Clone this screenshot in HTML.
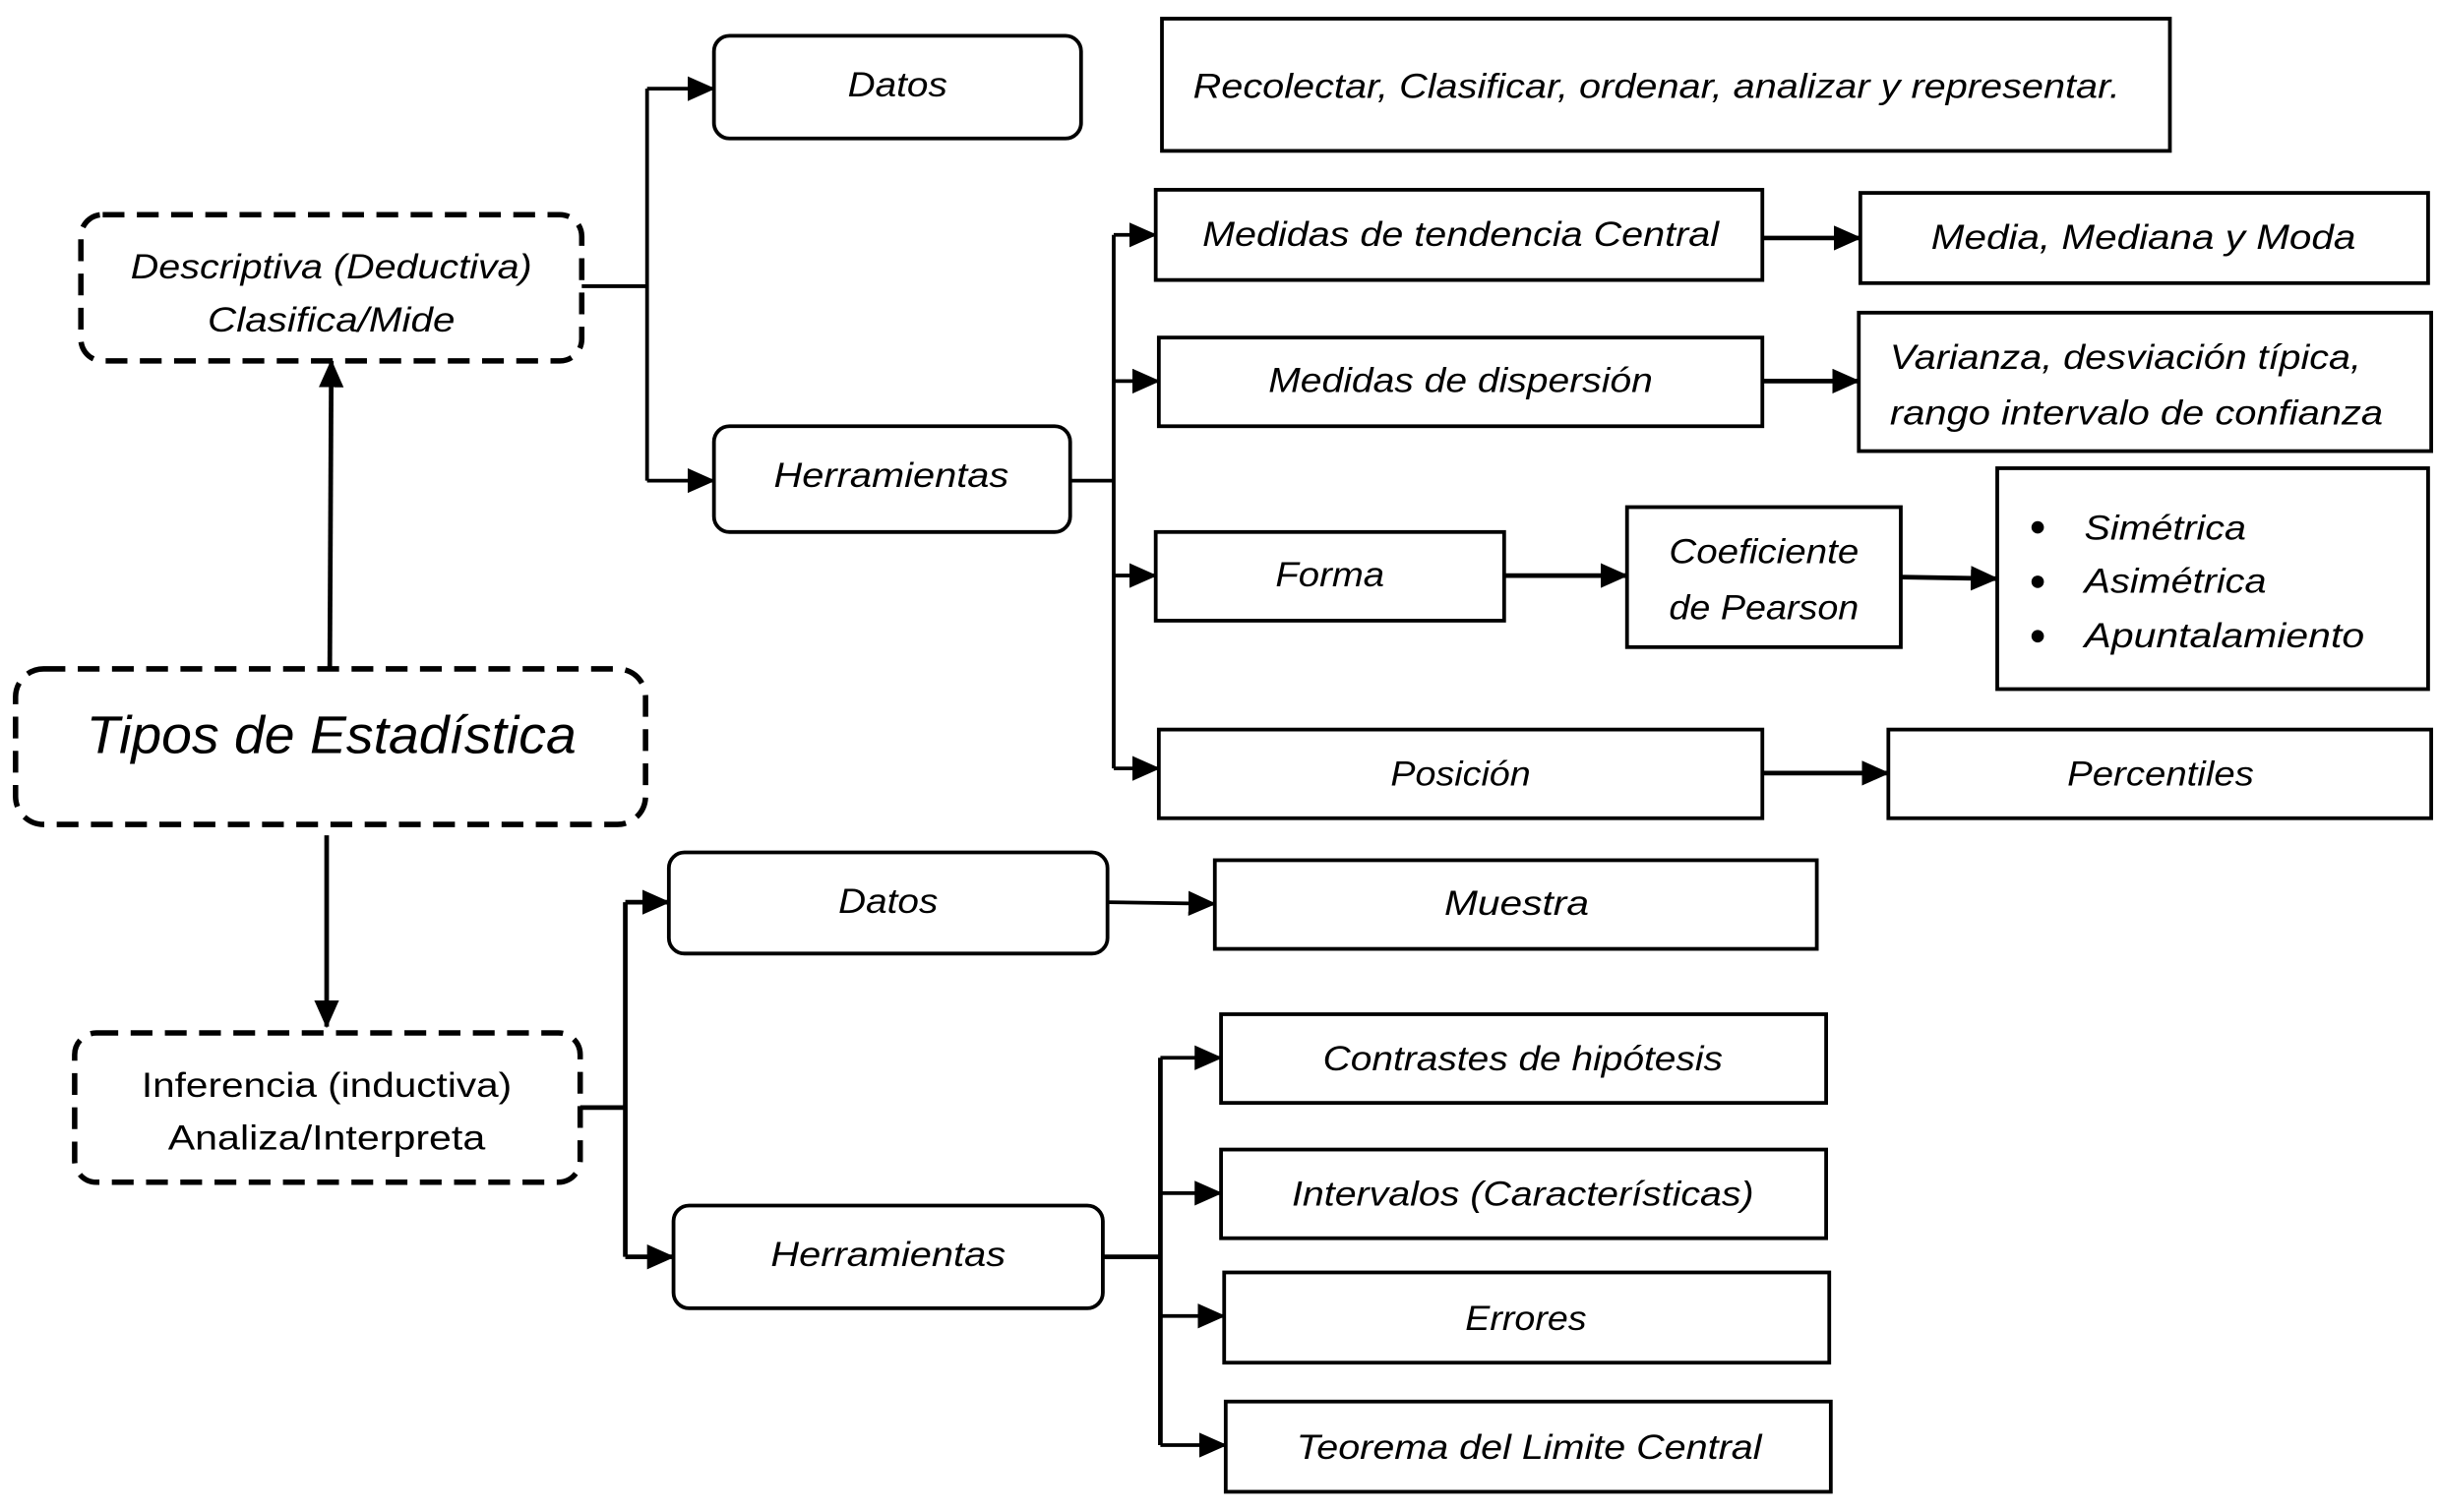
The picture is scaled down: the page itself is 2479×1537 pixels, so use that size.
<!DOCTYPE html>
<html><head><meta charset="utf-8"><style>
html,body{margin:0;padding:0;background:#fff;width:2479px;height:1537px;overflow:hidden}
svg{display:block}
text{font-family:"Liberation Sans",sans-serif;font-style:italic;font-size:22px;fill:#000}
</style></head><body>
<svg width="2479" height="1537" viewBox="0 0 1568 972" preserveAspectRatio="none">
<defs>
<marker id="b" markerWidth="18" markerHeight="16" refX="17" refY="8" orient="auto" markerUnits="userSpaceOnUse"><path d="M0,0L18,8L0,16z" fill="#000"/></marker></defs>
<g fill="none" stroke="#000" stroke-width="2.4">
<rect x="459" y="23" width="236" height="66" rx="10"/>
<rect x="747" y="12" width="648" height="85"/>
<rect x="52" y="138" width="322" height="94" rx="14" stroke-width="3.5" stroke-dasharray="14,8"/>
<rect x="459" y="274" width="229" height="68" rx="10"/>
<rect x="743" y="122" width="390" height="58"/>
<rect x="1196" y="124" width="365" height="58"/>
<rect x="745" y="217" width="388" height="57"/>
<rect x="1195" y="201" width="368" height="89"/>
<rect x="743" y="342" width="224" height="57"/>
<rect x="1046" y="326" width="176" height="90"/>
<rect x="1284" y="301" width="277" height="142"/>
<rect x="745" y="469" width="388" height="57"/>
<rect x="1214" y="469" width="349" height="57"/>
<rect x="10" y="430" width="405" height="100" rx="18" stroke-width="3.5" stroke-dasharray="14,8"/>
<rect x="430" y="548" width="282" height="65" rx="10"/>
<rect x="781" y="553" width="387" height="57"/>
<rect x="48" y="664" width="325" height="96" rx="14" stroke-width="3.5" stroke-dasharray="14,8"/>
<rect x="433" y="775" width="276" height="66" rx="10"/>
<rect x="785" y="652" width="389" height="57"/>
<rect x="785" y="739" width="389" height="57"/>
<rect x="787" y="818" width="389" height="58"/>
<rect x="788" y="901" width="389" height="58"/>
</g>
<g fill="none" stroke="#000" stroke-width="2.4">
<path d="M374,184H416M416,57V309"/>
<path d="M416,57H459" marker-end="url(#b)"/><path d="M416,309H459" marker-end="url(#b)"/>
<path d="M688,309H716M716,151V494"/>
<path d="M716,151H743" marker-end="url(#b)"/><path d="M716,245H745" marker-end="url(#b)"/>
<path d="M716,370H743" marker-end="url(#b)"/><path d="M716,494H745" marker-end="url(#b)"/>
<path d="M1133,153H1196" stroke-width="3" marker-end="url(#b)"/>
<path d="M1133,245H1195" stroke-width="3" marker-end="url(#b)"/>
<path d="M967,370H1046" stroke-width="3" marker-end="url(#b)"/>
<path d="M1222,371L1284,372" stroke-width="3" marker-end="url(#b)"/>
<path d="M1133,497H1214" stroke-width="3" marker-end="url(#b)"/>
<path d="M212,430L213,232" stroke-width="3" marker-end="url(#b)"/>
<path d="M210,537V660" stroke-width="3" marker-end="url(#b)"/>
<path d="M373,712H402M402,580V808" stroke-width="3"/>
<path d="M402,580H430" stroke-width="3" marker-end="url(#b)"/><path d="M402,808H433" stroke-width="3" marker-end="url(#b)"/>
<path d="M712,580L781,581" marker-end="url(#b)"/>
<path d="M709,808H746M746,680V929" stroke-width="3"/>
<path d="M746,680H785" marker-end="url(#b)"/><path d="M746,767H785" marker-end="url(#b)"/>
<path d="M746,846H787" marker-end="url(#b)"/><path d="M746,929H788" marker-end="url(#b)"/>
</g>
<g text-anchor="middle" lengthAdjust="spacingAndGlyphs">
<text x="577" y="62" textLength="64" lengthAdjust="spacingAndGlyphs">Datos</text>
<text x="1065" y="63" textLength="596" lengthAdjust="spacingAndGlyphs">Recolectar, Clasificar, ordenar, analizar y representar.</text>
<text x="213" y="179" textLength="258" lengthAdjust="spacingAndGlyphs">Descriptiva (Deductiva)</text>
<text x="213" y="213" textLength="159" lengthAdjust="spacingAndGlyphs">Clasifica/Mide</text>
<text x="573" y="313" textLength="151" lengthAdjust="spacingAndGlyphs">Herramientas</text>
<text x="939" y="158" textLength="332" lengthAdjust="spacingAndGlyphs">Medidas de tendencia Central</text>
<text x="1378" y="160" textLength="273" lengthAdjust="spacingAndGlyphs">Media, Mediana y Moda</text>
<text x="939" y="252" textLength="247" lengthAdjust="spacingAndGlyphs">Medidas de dispersión</text>
<text x="855" y="377" textLength="70" lengthAdjust="spacingAndGlyphs">Forma</text>
<text x="1134" y="362" textLength="122" lengthAdjust="spacingAndGlyphs">Coeficiente</text>
<text x="1134" y="398" textLength="122" lengthAdjust="spacingAndGlyphs">de Pearson</text>
<text x="939" y="505" textLength="90" lengthAdjust="spacingAndGlyphs">Posición</text>
<text x="1389" y="505" textLength="120" lengthAdjust="spacingAndGlyphs">Percentiles</text>
<text x="213" y="484" style="font-size:34px" textLength="315" lengthAdjust="spacingAndGlyphs">Tipos de Estadística</text>
<text x="571" y="587" textLength="64" lengthAdjust="spacingAndGlyphs">Datos</text>
<text x="975" y="588" textLength="93" lengthAdjust="spacingAndGlyphs">Muestra</text>
<text x="210" y="705" style="font-style:normal" textLength="238" lengthAdjust="spacingAndGlyphs">Inferencia (inductiva)</text>
<text x="210" y="739" style="font-style:normal" textLength="204" lengthAdjust="spacingAndGlyphs">Analiza/Interpreta</text>
<text x="571" y="814" textLength="151" lengthAdjust="spacingAndGlyphs">Herramientas</text>
<text x="979" y="688" textLength="257" lengthAdjust="spacingAndGlyphs">Contrastes de hipótesis</text>
<text x="979" y="775" textLength="297" lengthAdjust="spacingAndGlyphs">Intervalos (Características)</text>
<text x="981" y="855" textLength="78" lengthAdjust="spacingAndGlyphs">Errores</text>
<text x="983" y="938" textLength="299" lengthAdjust="spacingAndGlyphs">Teorema del Limite Central</text>
</g>
<text x="1215" y="237" textLength="303" lengthAdjust="spacingAndGlyphs">Varianza, desviación típica,</text>
<text x="1215" y="273" textLength="317" lengthAdjust="spacingAndGlyphs">rango intervalo de confianza</text>
<g fill="#000"><circle cx="1310" cy="339" r="4"/><circle cx="1310" cy="374" r="4"/><circle cx="1310" cy="409" r="4"/></g>
<text x="1340" y="347" textLength="104" lengthAdjust="spacingAndGlyphs">Simétrica</text>
<text x="1340" y="381" textLength="117" lengthAdjust="spacingAndGlyphs">Asimétrica</text>
<text x="1340" y="416" textLength="180" lengthAdjust="spacingAndGlyphs">Apuntalamiento</text>
</svg>
</body></html>
